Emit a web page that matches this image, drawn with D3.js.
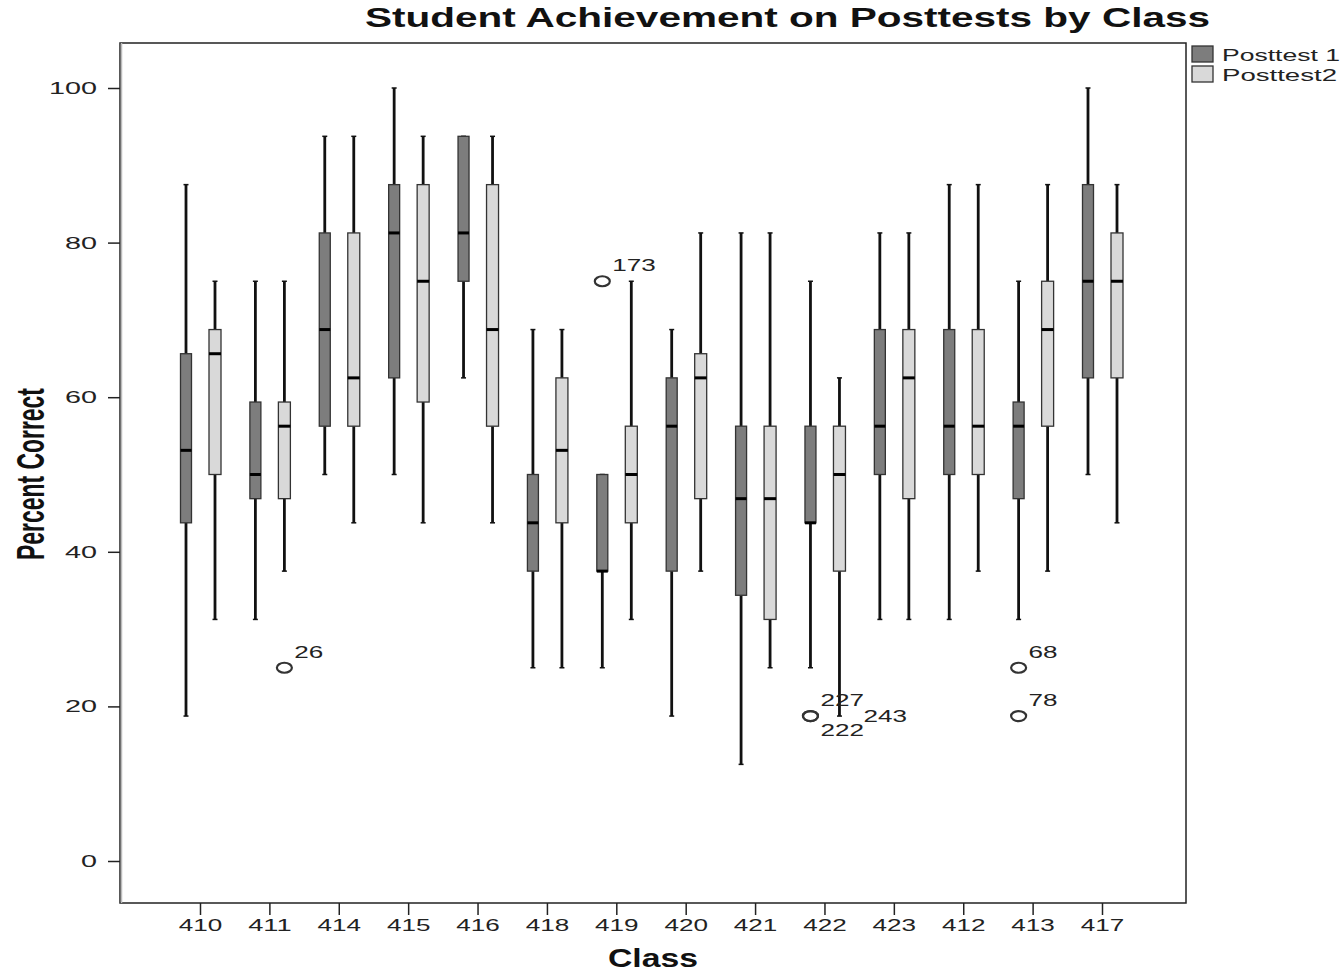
<!DOCTYPE html>
<html>
<head>
<meta charset="utf-8">
<script src="https://cdn.jsdelivr.net/npm/d3@7/dist/d3.min.js"></script>
<style>
  html, body { margin: 0; padding: 0; background: #fff; }
  svg { display: block; font-family: "Liberation Sans", Arial, sans-serif; }
</style>
</head>
<body>
<svg id="chart" width="1344" height="971"></svg>
<script>
// ---- data ----
const classes = ["410","411","414","415","416","418","419","420","421","422","423","412","413","417"];
const seriesNames = ["Posttest 1", "Posttest2"];
const yTicks = [0, 20, 40, 60, 80, 100];

// Posttest 1 five-number summaries (per class, same order as classes)
const p1Min = [18.75, 31.25, 50, 50, 62.5, 25, 25, 18.75, 12.5, 25, 31.25, 31.25, 31.25, 50];
const p1Q1  = [43.75, 46.875, 56.25, 62.5, 75, 37.5, 37.5, 37.5, 34.375, 43.75, 50, 50, 46.875, 62.5];
const p1Med = [53.125, 50, 68.75, 81.25, 81.25, 43.75, 37.5, 56.25, 46.875, 43.75, 56.25, 56.25, 56.25, 75];
const p1Q3  = [65.625, 59.375, 81.25, 87.5, 93.75, 50, 50, 62.5, 56.25, 56.25, 68.75, 68.75, 59.375, 87.5];
const p1Max = [87.5, 75, 93.75, 100, 93.75, 68.75, 50, 68.75, 81.25, 75, 81.25, 87.5, 75, 100];

// Posttest2 five-number summaries
const p2Min = [31.25, 37.5, 43.75, 43.75, 43.75, 25, 31.25, 37.5, 25, 18.75, 31.25, 37.5, 37.5, 43.75];
const p2Q1  = [50, 46.875, 56.25, 59.375, 56.25, 43.75, 43.75, 46.875, 31.25, 37.5, 46.875, 50, 56.25, 62.5];
const p2Med = [65.625, 56.25, 62.5, 75, 68.75, 53.125, 50, 62.5, 46.875, 50, 62.5, 56.25, 68.75, 75];
const p2Q3  = [68.75, 59.375, 81.25, 87.5, 87.5, 62.5, 56.25, 65.625, 56.25, 56.25, 68.75, 68.75, 75, 81.25];
const p2Max = [75, 75, 93.75, 93.75, 93.75, 68.75, 75, 81.25, 81.25, 62.5, 81.25, 87.5, 87.5, 87.5];

// Outliers
const outClass  = ["411", "419", "422", "422", "422", "413", "413"];
const outSeries = ["Posttest2", "Posttest 1", "Posttest 1", "Posttest 1", "Posttest2", "Posttest 1", "Posttest 1"];
const outValue  = [25, 75, 18.75, 18.75, 18.75, 25, 18.75];
const outLabel  = ["26", "173", "227", "222", "243", "68", "78"];
const outPos    = ["above", "above", "above", "below", "right", "above", "above"];
const outMark   = [true, true, true, true, false, true, true];

// ---- layout ----
const svg = d3.select("#chart");
const frame = { left: 120, right: 1186, top: 43, bottom: 903 };

const x = d3.scalePoint().domain(classes).range([200, 1102]);
const xs = d3.scalePoint().domain(seriesNames).range([-14, 15]);
const y = d3.scaleLinear().domain([0, 100]).range([861, 88]);

const fills = { "Posttest 1": "#7d7d7d", "Posttest2": "#d9d9d9" };
const boxW = { "Posttest 1": 11, "Posttest2": 12 };

const boxes = [];
classes.forEach((c, i) => {
  boxes.push({ cls: c, s: "Posttest 1", min: p1Min[i], q1: p1Q1[i], med: p1Med[i], q3: p1Q3[i], max: p1Max[i] });
  boxes.push({ cls: c, s: "Posttest2", min: p2Min[i], q1: p2Q1[i], med: p2Med[i], q3: p2Q3[i], max: p2Max[i] });
});

// frame
svg.append("rect")
  .attr("x", frame.left).attr("y", frame.top)
  .attr("width", frame.right - frame.left).attr("height", frame.bottom - frame.top)
  .attr("fill", "none").attr("stroke", "#222").attr("stroke-width", 1.5);
svg.append("line")
  .attr("x1", frame.left + 1.5).attr("x2", frame.left + 1.5)
  .attr("y1", frame.top).attr("y2", frame.bottom)
  .attr("stroke", "#bbb").attr("stroke-width", 1.5);

// axes
const yAxis = svg.append("g")
  .attr("transform", `translate(${frame.left},0)`)
  .call(d3.axisLeft(y).tickValues(yTicks).tickSize(12).tickPadding(11));
yAxis.select(".domain").remove();
yAxis.selectAll(".tick line").attr("stroke", "#222").attr("stroke-width", 1.5);
yAxis.selectAll(".tick text")
  .attr("font-size", 17).attr("fill", "#222")
  .attr("font-family", "Liberation Sans, Arial, sans-serif")
  .each(function() {
    const t = d3.select(this);
    t.attr("textLength", t.text().length * 16).attr("lengthAdjust", "spacingAndGlyphs");
  });

const xAxis = svg.append("g")
  .attr("transform", `translate(0,${frame.bottom})`)
  .call(d3.axisBottom(x).tickSize(12).tickPadding(4));
xAxis.select(".domain").remove();
xAxis.selectAll(".tick line").attr("stroke", "#222").attr("stroke-width", 1.5);
xAxis.selectAll(".tick text")
  .attr("font-size", 17).attr("fill", "#222")
  .attr("font-family", "Liberation Sans, Arial, sans-serif")
  .each(function() {
    const t = d3.select(this);
    t.attr("textLength", t.text().length * 14.5).attr("lengthAdjust", "spacingAndGlyphs");
  });

// boxplots
const g = svg.append("g");
const bg = g.selectAll("g.box").data(boxes).join("g")
  .attr("class", "box")
  .attr("transform", d => `translate(${x(d.cls) + xs(d.s)},0)`);

// whiskers
bg.append("line")
  .attr("x1", 0).attr("x2", 0)
  .attr("y1", d => y(d.max)).attr("y2", d => y(d.q3))
  .attr("stroke", "#111").attr("stroke-width", 2.8);
bg.append("line")
  .attr("x1", 0).attr("x2", 0)
  .attr("y1", d => y(d.q1)).attr("y2", d => y(d.min))
  .attr("stroke", "#111").attr("stroke-width", 2.8);
// caps
bg.append("line")
  .attr("x1", -2.5).attr("x2", 2.5)
  .attr("y1", d => y(d.max)).attr("y2", d => y(d.max))
  .attr("stroke", "#111").attr("stroke-width", 1.5);
bg.append("line")
  .attr("x1", -2.5).attr("x2", 2.5)
  .attr("y1", d => y(d.min)).attr("y2", d => y(d.min))
  .attr("stroke", "#111").attr("stroke-width", 1.5);
// box
bg.append("rect")
  .attr("x", d => -boxW[d.s] / 2)
  .attr("width", d => boxW[d.s])
  .attr("y", d => y(d.q3))
  .attr("height", d => y(d.q1) - y(d.q3))
  .attr("fill", d => fills[d.s])
  .attr("stroke", "#333").attr("stroke-width", 1.3);
// median
bg.append("line")
  .attr("x1", d => -boxW[d.s] / 2).attr("x2", d => boxW[d.s] / 2)
  .attr("y1", d => y(d.med)).attr("y2", d => y(d.med))
  .attr("stroke", "#000").attr("stroke-width", 3);

// outliers
const outs = outClass.map((c, i) => ({ cls: c, s: outSeries[i], v: outValue[i], label: outLabel[i], pos: outPos[i], mark: outMark[i] }));
const og = svg.append("g");
og.selectAll("ellipse").data(outs.filter(d => d.mark)).join("ellipse")
  .attr("cx", d => x(d.cls) + xs(d.s))
  .attr("cy", d => y(d.v))
  .attr("rx", 7.5).attr("ry", 5)
  .attr("fill", "none").attr("stroke", "#333").attr("stroke-width", 2.2);
og.selectAll("text").data(outs).join("text")
  .attr("x", d => x(d.cls) + xs(d.s) + (d.pos === "right" ? 24 : 10))
  .attr("y", d => y(d.v) + (d.pos === "above" ? -10 : d.pos === "below" ? 20 : 6))
  .attr("font-size", 17).attr("fill", "#222")
  .attr("textLength", d => d.label.length * 14.5)
  .attr("lengthAdjust", "spacingAndGlyphs")
  .text(d => d.label);

// title
svg.append("text")
  .attr("x", 365).attr("y", 27)
  .attr("font-size", 27).attr("font-weight", "bold").attr("fill", "#111")
  .attr("textLength", 845).attr("lengthAdjust", "spacingAndGlyphs")
  .text("Student Achievement on Posttests by Class");

// axis titles
svg.append("text")
  .attr("x", 608).attr("y", 967)
  .attr("font-size", 25).attr("font-weight", "bold").attr("fill", "#111")
  .attr("textLength", 90).attr("lengthAdjust", "spacingAndGlyphs")
  .text("Class");

svg.append("text")
  .attr("transform", "translate(44,560) rotate(-90)")
  .attr("x", 0).attr("y", 0)
  .attr("font-size", 38).attr("font-weight", "bold").attr("fill", "#111")
  .attr("textLength", 172).attr("lengthAdjust", "spacingAndGlyphs")
  .text("Percent Correct");

// legend
const lg = svg.append("g");
const ly = d3.scalePoint().domain(seriesNames).range([46, 66]);
lg.selectAll("rect").data(seriesNames).join("rect")
  .attr("x", 1192).attr("y", d => ly(d))
  .attr("width", 21).attr("height", 16)
  .attr("fill", d => fills[d]).attr("stroke", "#333").attr("stroke-width", 1.3);
lg.selectAll("text").data(seriesNames).join("text")
  .attr("x", 1222).attr("y", d => ly(d) + 15)
  .attr("font-size", 17).attr("fill", "#222")
  .attr("textLength", d => d === "Posttest 1" ? 118 : 115)
  .attr("lengthAdjust", "spacingAndGlyphs")
  .text(d => d);
</script>
</body>
</html>
